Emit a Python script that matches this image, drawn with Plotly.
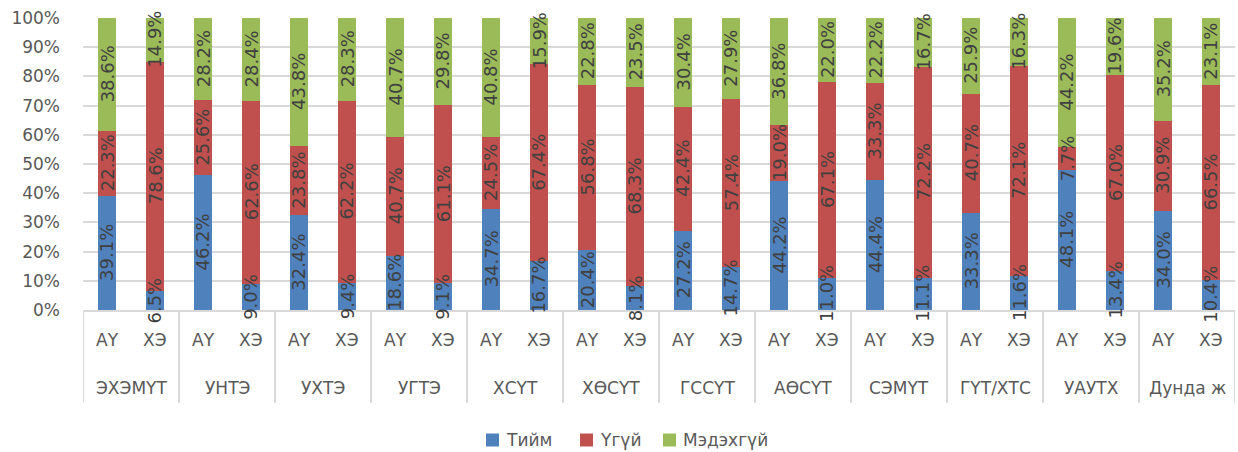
import plotly.graph_objects as go

# Survey groups and respondent type within each group
groups = ["ЭХЭМҮТ", "УНТЭ", "УХТЭ", "УГТЭ", "ХСҮТ", "ХӨСҮТ",
          "ГССҮТ", "АӨСҮТ", "СЭМҮТ", "ГҮТ/ХТС", "УАУТХ", "Дунда ж"]
subs = ["АҮ", "ХЭ"]

# Shares (%) per group: АҮ and ХЭ
tiim_au = [39.1, 46.2, 32.4, 18.6, 34.7, 20.4, 27.2, 44.2, 44.4, 33.3, 48.1, 34.0]
tiim_he = [6.5, 9.0, 9.4, 9.1, 16.7, 8.1, 14.7, 11.0, 11.1, 11.6, 13.4, 10.4]
ugui_au = [22.3, 25.6, 23.8, 40.7, 24.5, 56.8, 42.4, 19.0, 33.3, 40.7, 7.7, 30.9]
ugui_he = [78.6, 62.6, 62.2, 61.1, 67.4, 68.3, 57.4, 67.1, 72.2, 72.1, 67.0, 66.5]
medehgui_au = [38.6, 28.2, 43.8, 40.7, 40.8, 22.8, 30.4, 36.8, 22.2, 25.9, 44.2, 35.2]
medehgui_he = [14.9, 28.4, 28.3, 29.8, 15.9, 23.5, 27.9, 22.0, 16.7, 16.3, 19.6, 23.1]

series = [
    ("Тийм", tiim_au, tiim_he, "#4F81BD"),
    ("Үгүй", ugui_au, ugui_he, "#C0504D"),
    ("Мэдэхгүй", medehgui_au, medehgui_he, "#9BBB59"),
]

x_outer = [g for g in groups for _ in subs]
x_inner = [s for _ in groups for s in subs]
n_bars = len(x_outer)

FONT = "DejaVu Sans"
LABEL_GRAY = "#595959"
GRID_GRAY = "#D9D9D9"

# Plot-area geometry in pixels (used for the legend row below the chart)
W, H = 1238, 452
M_L, M_R, M_T, M_B = 83, 3, 18, 142
PLOT_W = W - M_L - M_R
PLOT_H = H - M_T - M_B


def px_to_paper_x(px):
    return (px - M_L) / PLOT_W


def px_to_paper_y(py):
    return (H - M_B - py) / PLOT_H


# Interleave АҮ / ХЭ values for each series
series_vals = []
for name, au, he, color in series:
    vals = []
    for a, h in zip(au, he):
        vals += [a, h]
    series_vals.append(vals)

fig = go.Figure()
for (name, _, _, color), vals in zip(series, series_vals):
    fig.add_trace(go.Bar(
        x=[x_outer, x_inner],
        y=vals,
        name=name,
        marker=dict(color=color, line=dict(width=0)),
        hoverinfo="skip",
        showlegend=False,
    ))

annotations = []
shapes = []

# Value labels, rotated, centred in each stacked segment (share of the bar total)
totals = [sum(col) for col in zip(*series_vals)]
for i in range(n_bars):
    base = 0.0
    for vals in series_vals:
        v = vals[i]
        share = v / totals[i] * 100
        annotations.append(dict(
            x=i, y=base + share / 2, xref="x", yref="y",
            text=f"{v:.1f}%", textangle=-90, showarrow=False,
            xanchor="center", yanchor="middle",
            font=dict(family=FONT, size=18, color="#404040"),
        ))
        base += share

# Two-level category labels under the axis
for i, s in enumerate(x_inner):
    annotations.append(dict(
        x=i, y=-0.103, xref="x", yref="paper", text=s, showarrow=False,
        xanchor="center", yanchor="middle",
        font=dict(family=FONT, size=17, color=LABEL_GRAY),
    ))
for j, g in enumerate(groups):
    annotations.append(dict(
        x=2 * j + 0.5, y=-0.267, xref="x", yref="paper", text=g, showarrow=False,
        xanchor="center", yanchor="middle",
        font=dict(family=FONT, size=17, color=LABEL_GRAY),
    ))

# Group dividers below the axis
for j in range(len(groups) + 1):
    xb = 2 * j - 0.5
    shapes.append(dict(
        type="line", xref="x", yref="paper", x0=xb, x1=xb, y0=0, y1=-0.318,
        line=dict(color=GRID_GRAY, width=2),
    ))

# Legend row: coloured square + series name
legend_starts = [486, 580, 663]
legend_y = 440
for (name, _, _, color), x0 in zip(series, legend_starts):
    shapes.append(dict(
        type="rect", xref="paper", yref="paper",
        x0=px_to_paper_x(x0), x1=px_to_paper_x(x0 + 13),
        y0=px_to_paper_y(legend_y + 6.5), y1=px_to_paper_y(legend_y - 6.5),
        fillcolor=color, line=dict(width=0),
    ))
    annotations.append(dict(
        x=px_to_paper_x(x0 + 18), y=px_to_paper_y(legend_y),
        xref="paper", yref="paper", text=name, showarrow=False,
        xanchor="left", yanchor="middle",
        font=dict(family=FONT, size=17, color=LABEL_GRAY),
    ))

fig.update_layout(
    barmode="stack",
    barnorm="percent",
    bargap=0.625,
    width=W,
    height=H,
    margin=dict(l=M_L, r=M_R, t=M_T, b=M_B),
    paper_bgcolor="white",
    plot_bgcolor="white",
    font=dict(family=FONT, size=17, color=LABEL_GRAY),
    showlegend=False,
    annotations=annotations,
    shapes=shapes,
    xaxis=dict(
        type="multicategory",
        range=[-0.5, n_bars - 0.5],
        showline=True,
        linecolor=GRID_GRAY,
        linewidth=2,
        showgrid=False,
        showdividers=False,
        showticklabels=False,
        ticks="",
    ),
    yaxis=dict(
        range=[0, 100],
        tickvals=[0, 10, 20, 30, 40, 50, 60, 70, 80, 90, 100],
        ticktext=[f"{v}%" for v in range(0, 101, 10)],
        showgrid=True,
        gridcolor=GRID_GRAY,
        gridwidth=2,
        zeroline=False,
        showline=False,
        ticks="",
        ticklabelstandoff=22,
        tickfont=dict(family=FONT, size=17, color=LABEL_GRAY),
    ),
)

fig.write_html("out.html")
